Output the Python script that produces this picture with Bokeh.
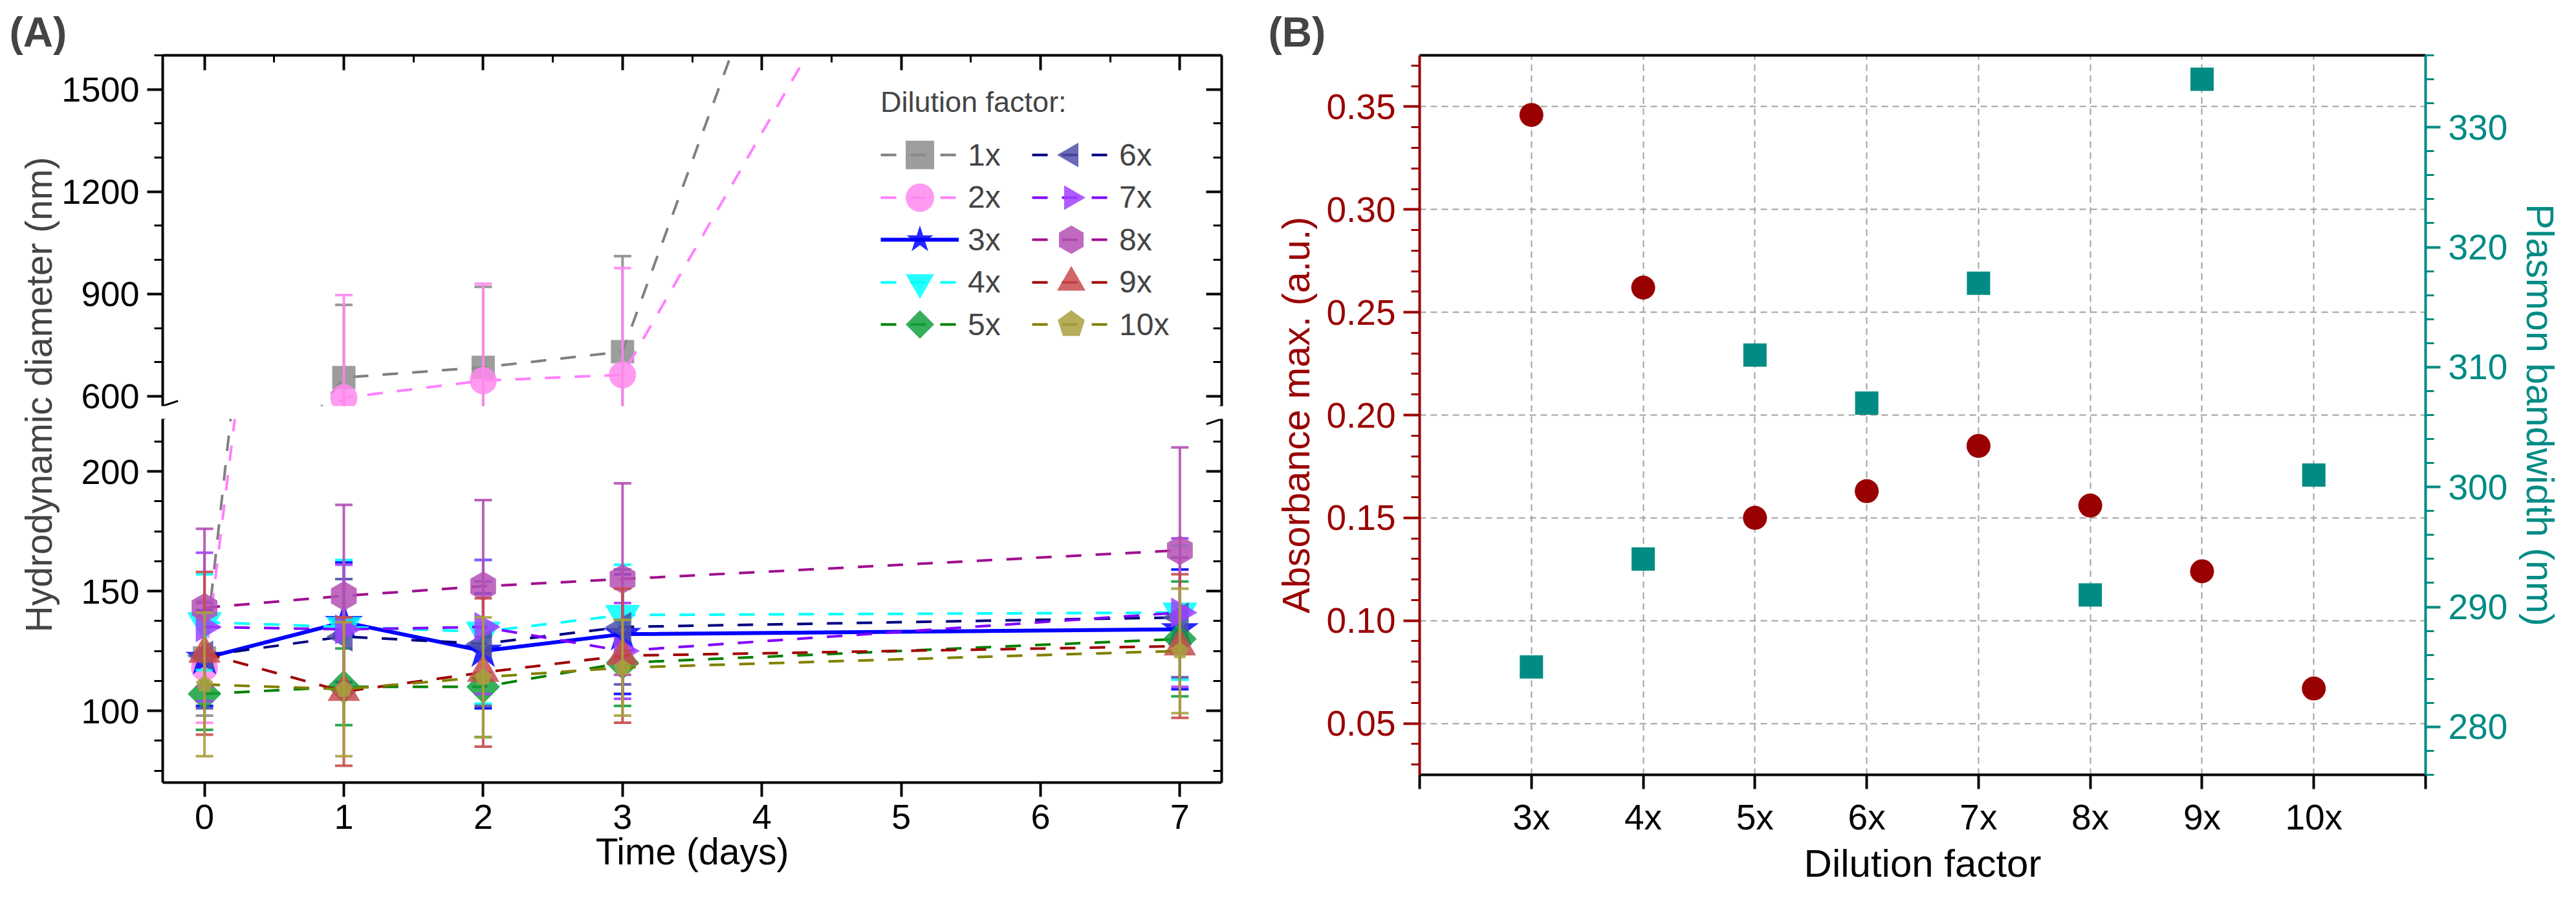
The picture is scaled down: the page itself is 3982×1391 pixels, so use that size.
import math
from bokeh.plotting import figure
from bokeh.models import (ColumnDataSource, Range1d, LinearAxis, SingleIntervalTicker,
                          FixedTicker, Legend, LegendItem, PrintfTickFormatter, Title)
from bokeh.layouts import row, column
from bokeh.embed import file_html
from bokeh.resources import INLINE

# ---------------- Panel A data ----------------
days = [0, 1, 2, 3, 7]
labels_a = ["1x", "2x", "3x", "4x", "5x", "6x", "7x", "8x", "9x", "10x"]
mean_1x = [122, 655, 685, 731, 5200]
err_1x = [24, 213, 236, 280, 0]
mean_2x = [118, 596, 646, 663, 3500]
err_2x = [23, 301, 284, 313, 0]
mean_3x = [122, 137, 125, 132, 134]
err_3x = [20, 25, 24, 25, 25]
mean_4x = [137, 135, 133, 140, 141]
err_4x = [20, 28, 30, 21, 28]
mean_5x = [107, 110, 110, 120, 130]
err_5x = [15, 16, 21, 18, 24]
mean_6x = [123, 131, 128, 135, 139]
err_6x = [22, 24, 26, 24, 25]
mean_7x = [135, 134, 135, 125, 141]
err_7x = [31, 27, 28, 20, 31]
mean_8x = [143, 148, 152, 155, 167]
err_8x = [33, 38, 36, 40, 43]
mean_9x = [124, 108, 116, 123, 127]
err_9x = [34, 31, 31, 28, 30]
mean_10x = [111, 109, 114, 118, 125]
err_10x = [30, 28, 25, 20, 26]

means_a = [mean_1x, mean_2x, mean_3x, mean_4x, mean_5x, mean_6x, mean_7x, mean_8x, mean_9x, mean_10x]
errs_a = [err_1x, err_2x, err_3x, err_4x, err_5x, err_6x, err_7x, err_8x, err_9x, err_10x]

# ---------------- Panel B data ----------------
factors_b = ["3x", "4x", "5x", "6x", "7x", "8x", "9x", "10x"]
factor_pos_b = [3, 4, 5, 6, 7, 8, 9, 10]
absorbance = [0.346, 0.262, 0.150, 0.163, 0.185, 0.156, 0.124, 0.067]
bandwidth = [285, 294, 311, 307, 317, 291, 334, 301]

# ---------------- styles ----------------
FONT = "Liberation Sans"
line_colors = ["#808080", "#FF80FF", "#0000FF", "#00FFFF", "#008000",
               "#000080", "#8000FF", "#A0108F", "#A00000", "#808000"]
fill_colors = ["#8C8C8C", "#FF88EE", "#0000FF", "#00FFFF", "#14A03C",
               "#5050A8", "#A040FF", "#B450B4", "#C84B4B", "#A8A040"]
# (kind, shape, size-or-radius, angle); "ngon" shape = number of sides
marker_specs = [
    ("scatter", "square", 36, 0),
    ("scatter", "circle", 42, 0),
    ("scatter", "star", 62, 0),
    ("scatter", "inverted_triangle", 54, 0),
    ("ngon", 4, 26, 0),                 # diamond
    ("ngon", 3, 27, math.pi / 2),       # left-pointing triangle
    ("ngon", 3, 27, -math.pi / 2),      # right-pointing triangle
    ("ngon", 6, 23, 0),                 # hexagon
    ("scatter", "triangle", 50, 0),
    ("ngon", 5, 14, 0),                 # pentagon
]
fallback_markers = {3: "triangle", 4: "diamond", 5: "hex", 6: "hex"}
RED = "#990000"
TEAL = "#008B84"
HYDRO = "Hydrodynamic diameter (nm)"
OVERLAP = 420   # the lower canvas reaches up behind the upper one (transparent)


def style_axis(ax, color="black", tick_in=0, tick_out=24, minor_in=0, minor_out=13,
               label_size="54px", hide_values=None):
    ax.axis_line_color = color
    ax.axis_line_width = 4
    ax.major_tick_line_color = color
    ax.minor_tick_line_color = color
    ax.major_tick_line_width = 4
    ax.minor_tick_line_width = 3
    ax.major_tick_in = tick_in
    ax.major_tick_out = tick_out
    ax.minor_tick_in = minor_in
    ax.minor_tick_out = minor_out
    ax.major_label_text_font = FONT
    ax.major_label_text_color = color
    ax.major_label_text_font_size = label_size
    ax.axis_label_text_font = FONT
    ax.axis_label_text_font_style = "normal"
    ax.axis_label_text_color = color
    if hide_values is None:
        ax.major_label_standoff = 12
    else:
        ax.major_label_standoff = 0
        ax.major_label_overrides = {v: "" for v in hide_values}


x_range_a = Range1d(-0.3, 7.3)
UP_LO, UP_HI = 571.5, 1600
LO_LO, LO_HI = 70, 221.9


def draw_marker(p, src, i):
    kind, shape, sz, ang = marker_specs[i]
    if kind == "ngon":
        try:
            return p.ngon("x", "y", source=src, radius=sz, radius_units="screen",
                          n=shape, angle=ang, fill_color=fill_colors[i], fill_alpha=0.85,
                          line_color=None)
        except Exception:
            return p.scatter("x", "y", source=src, marker=fallback_markers[shape],
                             size=2 * sz, angle=ang, fill_color=fill_colors[i],
                             fill_alpha=0.85, line_color=None)
    return p.scatter("x", "y", source=src, marker=shape, size=sz, angle=ang,
                     fill_color=fill_colors[i], fill_alpha=0.85, line_color=None)


def make_a(ylo, yhi, height, top_border, bottom_border, section):
    p = figure(width=1928, height=height, x_range=x_range_a, y_range=Range1d(ylo, yhi),
               x_axis_location="above" if section == "upper" else "below",
               output_backend="svg", toolbar_location=None,
               min_border_left=251, min_border_right=40,
               min_border_top=top_border, min_border_bottom=bottom_border)
    p.outline_line_color = None
    p.xgrid.visible = False
    p.ygrid.visible = False

    if section == "upper":
        yt = SingleIntervalTicker(interval=300, num_minor_ticks=3)
        hidden_y = [0, 300, 600, 900, 1200, 1500, 1800]
        xa = p.xaxis[0]
        xa.ticker = SingleIntervalTicker(interval=1, num_minor_ticks=2)
        style_axis(xa, tick_in=23, tick_out=0, minor_in=11, minor_out=0,
                   label_size="2px", hide_values=list(range(-1, 9)))
    else:
        yt = SingleIntervalTicker(interval=50, num_minor_ticks=4)
        hidden_y = [0, 50, 100, 150, 200, 250]
        xa = p.xaxis[0]
        xa.ticker = SingleIntervalTicker(interval=1, num_minor_ticks=0)
        style_axis(xa, tick_in=0, tick_out=22, minor_in=0, minor_out=0)
        xa.minor_tick_line_color = None
        xa.axis_label = "Time (days)"
        xa.axis_label_text_font_size = "57px"
        xa.axis_label_standoff = 0

    ya = p.yaxis[0]
    ya.ticker = yt
    style_axis(ya, tick_in=0, tick_out=24, minor_in=0, minor_out=13)
    if section == "lower":
        # pad to the width of the 4-digit labels of the upper section
        ya.major_label_overrides = {v: "\u2007" + str(v) for v in [50, 100, 150, 200]}

    ra = LinearAxis(ticker=yt)
    style_axis(ra, tick_in=24, tick_out=0, minor_in=13, minor_out=0, hide_values=hidden_y)
    p.add_layout(ra, "right")

    rends = []
    for i in range(len(labels_a)):
        m = means_a[i]
        e = errs_a[i]
        src = ColumnDataSource(dict(x=days, y=m,
                                    lo=[a - b for a, b in zip(m, e)],
                                    hi=[a + b for a, b in zip(m, e)]))
        solid = labels_a[i] == "3x"
        lr = p.line("x", "y", source=src, line_color=line_colors[i],
                    line_width=6 if solid else 4,
                    line_dash="solid" if solid else "24 22")
        p.segment(x0="x", y0="lo", x1="x", y1="hi", source=src,
                  line_color=fill_colors[i], line_width=4, line_alpha=0.9)
        p.scatter("x", "lo", source=src, marker="dash", size=27,
                  line_color=fill_colors[i], line_width=4, line_alpha=0.9)
        p.scatter("x", "hi", source=src, marker="dash", size=27,
                  line_color=fill_colors[i], line_width=4, line_alpha=0.9)
        mr = draw_marker(p, src, i)
        rends.append((lr, mr))

    return p, rends


# Upper section (aggregated samples) and lower section of the broken axis
pu, rends_u = make_a(UP_LO, UP_HI, 647, 85, 20, "upper")
pl, rends_l = make_a(LO_LO, LO_HI, 723 + OVERLAP, 0 + OVERLAP, 161, "lower")
pl.border_fill_color = None
pl.background_fill_color = None
pl.styles = {"margin-top": "-%dpx" % OVERLAP}

# panel letter
pu.title.text = "(A)"
pu.title.align = "left"
pu.title.offset = -237
pu.title.text_font = FONT
pu.title.text_font_size = "64px"
pu.title.text_font_style = "bold"
pu.title.standoff = 0

# y-axis title for both sections (drawn once, on the taller lower canvas)
pl.add_layout(Title(text=HYDRO, align="left", offset=232, text_font=FONT,
                    text_font_size="57px", text_font_style="normal", standoff=2), "left")

# axis-break slashes at the ends of the two sections (clipped to each frame)
dx_break = 0.11
pu.segment(x0=[x_range_a.start - dx_break, x_range_a.end - dx_break],
           y0=[UP_LO - 15, UP_LO - 15],
           x1=[x_range_a.start + dx_break, x_range_a.end + dx_break],
           y1=[UP_LO + 15, UP_LO + 15], line_color="black", line_width=3)
pl.segment(x0=[x_range_a.start - dx_break, x_range_a.end - dx_break],
           y0=[LO_HI - 2.2, LO_HI - 2.2],
           x1=[x_range_a.start + dx_break, x_range_a.end + dx_break],
           y1=[LO_HI + 2.2, LO_HI + 2.2], line_color="black", line_width=3)

# legend: one small legend per entry, laid out in two columns of five rows
common = dict(padding=0, margin=0, border_line_color=None, background_fill_alpha=0,
              glyph_width=121, glyph_height=110, label_height=110, spacing=0,
              label_standoff=14, label_text_font=FONT, label_text_font_size="48px")
for i in range(len(labels_a)):
    col_i, row_i = divmod(i, 5)
    item = LegendItem(label=labels_a[i], renderers=[rends_u[i][0], rends_u[i][1]])
    extra = {}
    if i == 0:
        extra = dict(title="Dilution factor:", title_text_font=FONT,
                     title_text_font_size="45px", title_text_font_style="normal",
                     title_standoff=-20)
    leg = Legend(items=[item], location=(1110 + 234 * col_i, 333 - 65.5 * row_i),
                 **common, **extra)
    pu.add_layout(leg)

# ---------------- Panel B ----------------
pb = figure(width=2034, height=1370, x_range=Range1d(2, 11), y_range=Range1d(0.025, 0.375),
            output_backend="svg", toolbar_location=None,
            min_border_left=266, min_border_right=210, min_border_top=85, min_border_bottom=171)
pb.outline_line_color = None
pb.extra_y_ranges = {"bw": Range1d(276, 336)}
pb.title.text = "(B)"
pb.title.align = "left"
pb.title.offset = -234
pb.title.text_font = FONT
pb.title.text_font_size = "64px"
pb.title.text_font_style = "bold"
pb.title.standoff = 0

bx = pb.xaxis[0]
bx.ticker = FixedTicker(ticks=list(range(2, 12)))
style_axis(bx, tick_out=22, minor_out=0, label_size="55px")
overrides = {2: "", 11: ""}
for pos, lab_txt in zip(factor_pos_b, factors_b):
    overrides[pos] = lab_txt
bx.major_label_overrides = overrides
bx.minor_tick_line_color = None
bx.axis_label = "Dilution factor"
bx.axis_label_text_font_size = "60px"
bx.axis_label_standoff = 4

by = pb.yaxis[0]
by.ticker = SingleIntervalTicker(interval=0.05, num_minor_ticks=5)
by.formatter = PrintfTickFormatter(format="%.2f")
style_axis(by, color=RED, tick_out=25, minor_out=13, label_size="55px")
by.axis_label = "Absorbance max. (a.u.)"
by.axis_label_text_font_size = "59px"
by.axis_label_standoff = 10

br = LinearAxis(y_range_name="bw", ticker=SingleIntervalTicker(interval=10, num_minor_ticks=5))
style_axis(br, color=TEAL, tick_out=23, minor_out=13, label_size="55px")
br.axis_label = "Plasmon bandwidth (nm)"
br.axis_label_text_font_size = "59px"
br.axis_label_standoff = 14
pb.add_layout(br, "right")

bt = LinearAxis(ticker=FixedTicker(ticks=[]))
style_axis(bt, tick_out=0, minor_out=0, hide_values=[])
pb.add_layout(bt, "above")

pb.xgrid.ticker = FixedTicker(ticks=factor_pos_b)
pb.ygrid.ticker = SingleIntervalTicker(interval=0.05)
for g in (pb.xgrid[0], pb.ygrid[0]):
    g.grid_line_color = "#a0a0a0"
    g.grid_line_dash = "10 7"
    g.grid_line_width = 2

src_b = ColumnDataSource(dict(x=factor_pos_b, a=absorbance, w=bandwidth))
pb.scatter("x", "a", source=src_b, marker="circle", size=37, fill_color=RED, line_color=None)
pb.scatter("x", "w", source=src_b, y_range_name="bw", marker="square", size=36,
           fill_color=TEAL, line_color=None)

layout = row(column(pu, pl), pb)
open("out.html", "w").write(file_html(layout, INLINE))
